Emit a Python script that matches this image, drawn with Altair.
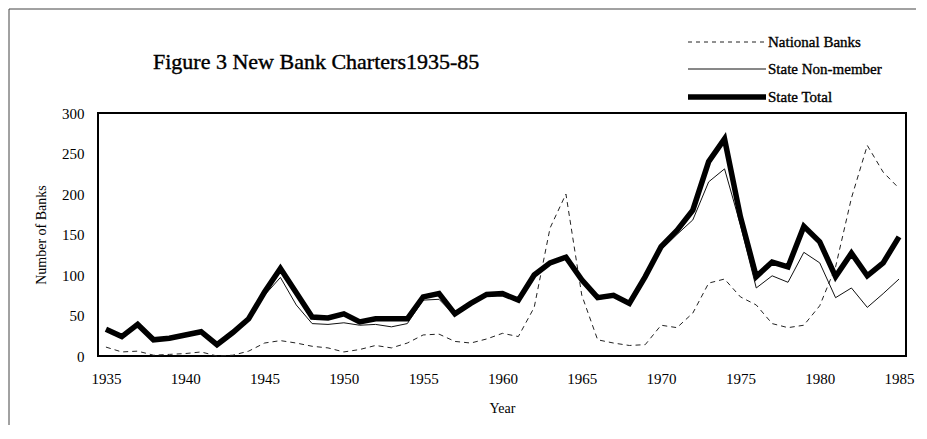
import altair as alt
import pandas as pd

years = list(range(1935, 1986))

national_banks = [11, 5, 6, 1, 2, 3, 5, 0, 1, 6,
                  16, 19, 16, 12, 10, 5, 8, 13, 10, 16,
                  26, 27, 18, 16, 21, 28, 24, 60, 158, 200,
                  75, 20, 16, 13, 14, 38, 35, 53, 90, 95,
                  73, 63, 40, 35, 38, 62, 110, 195, 260, 227, 207]

state_nonmember = [31, 23, 37, 19, 21, 25, 28, 13, 28, 45,
                   75, 97, 63, 40, 39, 41, 38, 39, 36, 40,
                   69, 70, 50, 63, 74, 75, 67, 98, 113, 120,
                   92, 70, 73, 63, 95, 131, 150, 168, 215, 231,
                   162, 84, 99, 91, 128, 115, 72, 84, 60, 77, 95]

state_total = [33, 24, 39, 20, 22, 26, 30, 14, 29, 46,
               79, 108, 78, 48, 47, 52, 42, 46, 46, 46,
               73, 77, 52, 65, 76, 77, 69, 100, 115, 122,
               94, 72, 75, 65, 98, 135, 155, 180, 240, 268,
               172, 98, 116, 110, 160, 141, 98, 127, 99, 115, 147]

series_names = ["National Banks", "State Non-member", "State Total"]
x_ticks = [1935, 1940, 1945, 1950, 1955, 1960, 1965, 1970, 1975, 1980, 1985]
y_ticks = [0, 50, 100, 150, 200, 250, 300]
title_text = "Figure 3 New Bank Charters1935-85"

df = pd.DataFrame({
    "Year": years * 3,
    "Banks": national_banks + state_nonmember + state_total,
    "Series": [series_names[0]] * len(years) + [series_names[1]] * len(years) + [series_names[2]] * len(years),
})
one = pd.DataFrame({"k": [0]})

FONT = "Liberation Serif"

x_enc = alt.X("Year:Q",
              scale=alt.Scale(domain=[1934.5, 1985.44], nice=False, zero=False),
              axis=alt.Axis(values=x_ticks, format="d", title="Year",
                            labelFont=FONT, labelFontSize=15, labelColor="#000",
                            labelPadding=15, ticks=False, domain=False, grid=False,
                            titleFont=FONT, titleFontSize=14, titleFontWeight="normal",
                            titleColor="#000", titlePadding=15))
y_enc = alt.Y("Banks:Q",
              scale=alt.Scale(domain=[0, 300], nice=False),
              axis=alt.Axis(values=y_ticks, title="Number of Banks",
                            labelFont=FONT, labelFontSize=15, labelColor="#000",
                            labelPadding=14, ticks=False, domain=False, grid=False,
                            titleFont=FONT, titleFontSize=14, titleFontWeight="normal",
                            titleColor="#000", titlePadding=13))

base = alt.Chart(df)

nat = base.transform_filter(alt.datum.Series == series_names[0]).mark_line(
    color="#222", strokeWidth=1, strokeDash=[5, 4]).encode(x=x_enc, y=y_enc)
nonm = base.transform_filter(alt.datum.Series == series_names[1]).mark_line(
    color="#111", strokeWidth=1).encode(x=x_enc, y=y_enc)
tot = base.transform_filter(alt.datum.Series == series_names[2]).mark_line(
    color="#000", strokeWidth=5.5, strokeJoin="miter", strokeMiterLimit=6).encode(x=x_enc, y=y_enc)

# manual legend (top right, above plot)
leg_y = [-71, -44, -16]
leg1 = alt.Chart(one).mark_rule(color="#222", strokeWidth=1, strokeDash=[4, 4]).encode(
    x=alt.value(590), x2=alt.value(668), y=alt.value(leg_y[0]))
leg2 = alt.Chart(one).mark_rule(color="#111", strokeWidth=1).encode(
    x=alt.value(590), x2=alt.value(668), y=alt.value(leg_y[1]))
leg3 = alt.Chart(one).mark_rule(color="#000", strokeWidth=5.5).encode(
    x=alt.value(590), x2=alt.value(668), y=alt.value(leg_y[2]))
legt = [
    alt.Chart(one).mark_text(text=series_names[i], font=FONT, fontSize=15, align="left",
                             baseline="middle", color="#000", stroke="#000",
                             strokeWidth=0.35).encode(
        x=alt.value(670), y=alt.value(leg_y[i]))
    for i in range(3)
]

title_mark = alt.Chart(one).mark_text(text=title_text, font=FONT, fontSize=22, align="left",
                                      baseline="middle", color="#000", stroke="#000",
                                      strokeWidth=0.4).encode(
    x=alt.value(55), y=alt.value(-51))

# outer figure frame (top and left edges)
frame_top = alt.Chart(one).mark_rule(color="#444", strokeWidth=1).encode(
    x=alt.value(-89), x2=alt.value(818), y=alt.value(-104))
frame_left = alt.Chart(one).mark_rule(color="#444", strokeWidth=1).encode(
    x=alt.value(-89), y=alt.value(-104), y2=alt.value(312))

chart = alt.layer(
    frame_top, frame_left, nat, nonm, tot, leg1, leg2, leg3, *legt, title_mark
).properties(
    width=808, height=243,
    autosize=alt.AutoSizeParams(type="none"),
    padding={"left": 90, "top": 105, "right": 10, "bottom": 70},
    background="white",
).configure_view(
    stroke="#000", strokeWidth=2
)

chart.save("out.html", embed_options={"renderer": "svg", "actions": False})
